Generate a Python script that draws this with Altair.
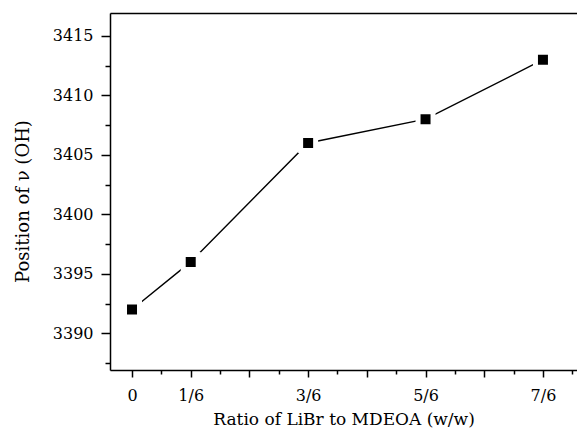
import altair as alt
import pandas as pd

# data
ratio_pos = [0, 1, 3, 5, 7]              # position in sixths
ratio_labels = ["0", "1/6", "3/6", "5/6", "7/6"]
oh_position = [3392, 3396, 3406, 3408, 3413]

major_x = [0, 1, 2, 3, 4, 5, 6, 7]
minor_x = [0.5, 1.5, 2.5, 3.5, 4.5, 5.5, 6.5, 7.5]
major_y = [3390, 3395, 3400, 3405, 3410, 3415]
minor_y = [3387.5, 3392.5, 3397.5, 3402.5, 3407.5, 3412.5]

df = pd.DataFrame({"x": ratio_pos, "y": oh_position, "lab": ratio_labels})

label_map = "{" + ",".join(f"'{p}':'{l}'" for p, l in zip(ratio_pos, ratio_labels)) + "}"
label_expr = f"({label_map})[''+datum.value] || ''"

FONT = "DejaVu Serif, Liberation Serif, serif"
xscale = alt.Scale(domain=[-0.375, 7.58], nice=False, zero=False)
yscale = alt.Scale(domain=[3386.91, 3416.93], nice=False, zero=False)

base = alt.Chart(df)

line = base.mark_line(color="black", strokeWidth=1.4).encode(
    x=alt.X("x:Q", scale=xscale,
            axis=alt.Axis(orient="bottom", values=major_x, labelExpr=label_expr,
                          title="Ratio of LiBr to MDEOA (w/w)", tickSize=7,
                          tickWidth=1.5, domainWidth=1.5, domainColor="black",
                          tickColor="black", labelFont=FONT, labelFontSize=16,
                          labelColor="black", labelPadding=10, titleFont=FONT,
                          titleFontSize=17, titleFontWeight="normal",
                          titleColor="black", titlePadding=8, grid=False,
                          labelFlush=False)),
    y=alt.Y("y:Q", scale=yscale,
            axis=alt.Axis(orient="left", values=major_y, format="d",
                          title="Position of ν (OH)",
                          tickSize=9, tickWidth=1.5, domainWidth=1.5,
                          domainColor="black", tickColor="black", labelFont=FONT,
                          labelFontSize=16, labelColor="black", labelPadding=8,
                          titleFont=FONT, titleFontSize=18, titleFontWeight="normal",
                          titleColor="black", titlePadding=20, titleY=188,
                          grid=False, labelFlush=False)),
)

points = base.mark_point(shape="square", filled=True, fill="black", stroke="white",
                         strokeWidth=5, size=225, opacity=1).encode(
    x=alt.X("x:Q", scale=xscale,
            axis=alt.Axis(orient="bottom", values=minor_x, labels=False, title=None,
                          tickSize=4, tickWidth=1.5, tickColor="black",
                          domain=False, grid=False)),
    y=alt.Y("y:Q", scale=yscale,
            axis=alt.Axis(orient="left", values=minor_y, labels=False, title=None,
                          tickSize=5, tickWidth=1.5, tickColor="black",
                          domain=False, grid=False)),
)

top = base.mark_point(opacity=0).encode(
    x=alt.X("x:Q", scale=xscale,
            axis=alt.Axis(orient="top", labels=False, ticks=False, title=None,
                          domainWidth=1.5, domainColor="black", grid=False)),
    y=alt.Y("y:Q", scale=yscale, axis=None),
)

chart = alt.layer(line, points, top).resolve_axis(x="independent", y="independent").properties(
    width=467, height=357,
    autosize=alt.AutoSizeParams(type="none"),
    padding={"left": 110, "top": 13, "right": 0, "bottom": 65},
).configure_view(stroke=None).configure(background="white")

chart.save("out.html", embed_options={"renderer": "svg", "actions": False})
